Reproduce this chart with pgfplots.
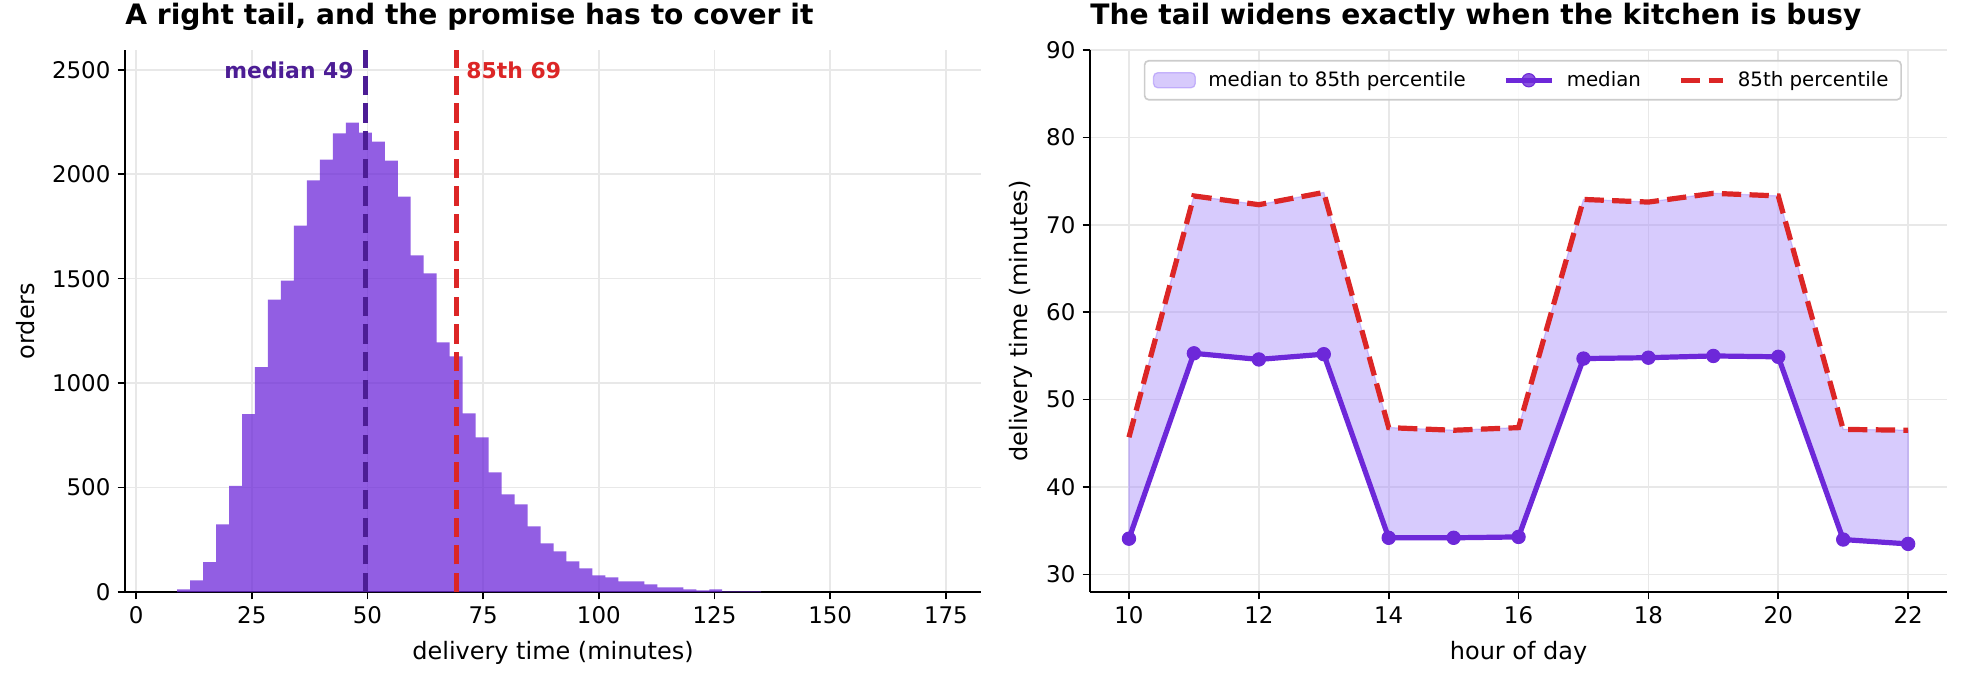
\documentclass[border=0pt]{standalone}
\usepackage{fontspec}
\setmainfont{DejaVu Sans}
\usepackage{pgfplots}
\pgfplotsset{compat=1.18}
\usepackage{pgfplotstable}
\usepgfplotslibrary{fillbetween}

\definecolor{violet700}{HTML}{6D28D9}
\definecolor{violet900}{HTML}{4C1D95}
\definecolor{violet400}{HTML}{A78BFA}
\definecolor{red600}{HTML}{DC2626}
\definecolor{gridc}{RGB}{232,232,232}
\definecolor{legframe}{RGB}{204,204,204}

% histogram: left bin edge, orders (last row closes the interval)
\pgfplotstableread{
edge count
8.86 13
11.67 56
14.47 143
17.28 324
20.08 508
22.89 851
25.69 1076
28.50 1400
31.30 1491
34.11 1754
36.91 1971
39.72 2070
42.52 2196
45.33 2247
48.13 2199
50.94 2156
53.74 2065
56.55 1893
59.35 1611
62.16 1525
64.96 1195
67.77 1128
70.57 855
73.38 740
76.18 573
78.99 467
81.79 420
84.60 314
87.40 233
90.21 195
93.01 147
95.82 113
98.62 80
101.43 70
104.23 51
107.04 51
109.84 37
112.65 22
115.45 22
118.26 13
121.06 8
123.87 13
126.67 3
129.48 3
132.28 3
135.09 0
}\histdata

% hourly median and 85th percentile
\pgfplotstableread{
h med p85
10 34.1 45.7
11 55.3 73.3
12 54.6 72.3
13 55.2 73.7
14 34.2 46.8
15 34.2 46.5
16 34.3 46.8
17 54.7 72.9
18 54.8 72.6
19 55.0 73.6
20 54.9 73.3
21 34.0 46.6
22 33.5 46.5
}\hourly

\pgfplotsset{
  panel/.style={
    scale only axis,
    height=260.2pt,
    xmajorgrids, ymajorgrids,
    major grid style={gridc, line width=0.8pt},
    axis x line*=bottom, axis y line*=left,
    axis line style={black, line width=0.8pt, -},
    tick align=outside, major tick length=3.5pt,
    tick style={black, line width=0.8pt},
    ticklabel style={font=\fontsize{11}{13}\selectfont},
    /pgf/number format/assume math mode=true,
    /pgf/number format/1000 sep={},
    scaled ticks=false,
    label style={font=\fontsize{11.5}{14}\selectfont},
    xlabel style={at={(axis description cs:0.5,-0.124)}, anchor=base},
    title style={at={(axis description cs:0,1)}, anchor=base west, yshift=6.4pt,
      inner sep=0pt, font=\bfseries\fontsize{13.5}{16}\selectfont},
  }
}

\begin{document}
\begin{tikzpicture}

\begin{axis}[panel,
  at={(60pt,43.2pt)}, anchor=south west,
  width=410.9pt,
  xmin=-2.4, xmax=182.6,
  ymin=0, ymax=2595,
  xtick={0,25,50,75,100,125,150,175},
  ytick={0,500,1000,1500,2000,2500},
  xlabel={delivery time (minutes)},
  ylabel={orders},
  ylabel style={at={(axis description cs:-0.1156,0.5)}, anchor=center},
  title={A right tail, and the promise has to cover it},
]
\addplot[ybar interval, fill=violet700, fill opacity=0.75, draw=none]
  table[x=edge, y=count] {\histdata};
\addplot[violet900, line width=2.5pt, dash pattern=on 9.25pt off 4pt]
  coordinates {(49.5,0) (49.5,2595)};
\addplot[red600, line width=2.5pt, dash pattern=on 9.25pt off 4pt]
  coordinates {(69.2,0) (69.2,2595)};
\node[anchor=base east, text=violet900, font=\bfseries\fontsize{10.5}{12}\selectfont]
  at (axis cs:48.6,2456) {median 49};
\node[anchor=base west, text=red600, font=\bfseries\fontsize{10.5}{12}\selectfont]
  at (axis cs:69.8,2456) {85th 69};
\end{axis}

\begin{axis}[panel,
  at={(523.2pt,43.2pt)}, anchor=south west,
  width=411.4pt,
  xmin=9.4, xmax=22.6,
  ymin=28, ymax=90,
  xtick={10,12,14,16,18,20,22},
  ytick={30,40,50,60,70,80,90},
  xlabel={hour of day},
  ylabel={delivery time (minutes)},
  ylabel style={at={(axis description cs:-0.0805,0.5)}, anchor=center},
  title={The tail widens exactly when the kitchen is busy},
  legend columns=3,
  legend style={at={(0.505,0.9816)}, anchor=north, draw=legframe, rounded corners=2pt,
    line width=0.8pt, fill=white, fill opacity=0.8, text opacity=1,
    font=\fontsize{9.5}{11}\selectfont, inner xsep=4pt, inner ysep=3pt,
    /tikz/every odd column/.append style={column sep=4pt},
    /tikz/every even column/.append style={column sep=16pt}},
  legend cell align=left,
]
\addplot[name path=lo, draw=none, forget plot] table[x=h, y=med] {\hourly};
\addplot[name path=hi, draw=none, forget plot] table[x=h, y=p85] {\hourly};
\addplot[fill=violet400, fill opacity=0.45, draw=violet400, draw opacity=0.5, line width=0.6pt,
  legend image code/.code={\draw[fill=violet400, fill opacity=0.45, draw=violet400, draw opacity=0.6, line width=0.6pt]
    (0pt,-3.6pt) rectangle (20pt,3.6pt);}]
  fill between[of=lo and hi];
\addlegendentry{median to 85th percentile}
\addplot[violet700, line width=2.5pt, mark=*, mark size=3.2pt, mark options={solid, line width=0.5pt},
  legend image code/.code={\draw[mark repeat=2, mark phase=2] plot coordinates {(0pt,0pt) (11pt,0pt) (22pt,0pt)};}]
  table[x=h, y=med] {\hourly};
\addlegendentry{median}
\addplot[red600, line width=2.5pt, dash pattern=on 9.25pt off 4pt,
  legend image code/.code={\draw (0pt,0pt) -- (20pt,0pt);}]
  table[x=h, y=p85] {\hourly};
\addlegendentry{85th percentile}
\end{axis}

\pgfresetboundingbox
\useasboundingbox (0,0) rectangle (941.76pt,327.36pt);
\end{tikzpicture}
\end{document}
